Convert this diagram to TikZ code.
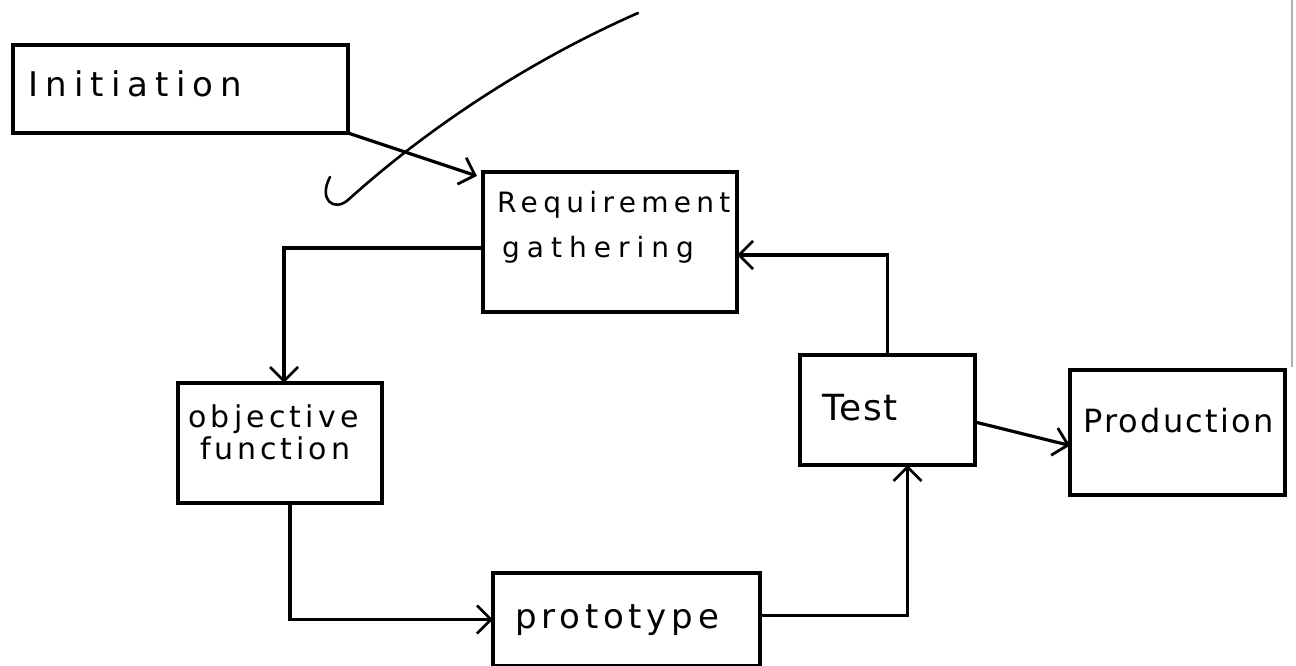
\documentclass[tikz,border=0pt]{standalone}
\usepackage{fontspec}
\setmainfont{DejaVu Sans}
\newfontfamily\hand{DejaVu Sans}
\usetikzlibrary{arrows.meta,calc}
\tikzset{
  box/.style={draw, line width=3.2bp, inner sep=0pt, outer sep=0pt, anchor=north west},
  txt/.style={inner sep=0pt, anchor=base west, text=black},
  arr/.style={draw, line width=3.2bp, -{Straight Barb[length=14bp,width=28bp,line width=2.8bp]}},
  conn/.style={draw, line width=3.2bp}
}
\newcommand{\hw}[3]{{\hand\fontsize{#1bp}{#1bp}\selectfont\addfontfeature{LetterSpace=#2}#3}}
\begin{document}
\begin{tikzpicture}[x=1bp,y=-1bp]
\useasboundingbox[fill=white] (0,0) rectangle (1296,666);
% boxes
\node[box, minimum width=335bp, minimum height=88bp] (init) at (13,45) {};
\node[box, minimum width=254bp, minimum height=140bp] (req) at (483,172) {};
\node[box, minimum width=204bp, minimum height=120bp] (obj) at (178,383) {};
\node[box, minimum width=267bp, minimum height=93bp] (proto) at (493,573) {};
\node[box, minimum width=175bp, minimum height=110bp] (test) at (800,355) {};
\node[box, minimum width=215bp, minimum height=125bp] (prod) at (1070,370) {};
% texts
\node[txt] (tinit) at (28,97) {\hw{34}{21}{Initiation}};
\node[txt] (treq1) at (497,213) {\hw{28}{19}{Requirement}};
\node[txt] (treq2) at (502,258) {\hw{28}{25}{gathering}};
\node[txt] (tobj1) at (188,427) {\hw{30}{14}{objective}};
\node[txt] (tobj2) at (200,459) {\hw{30}{13}{function}};
\node[txt] (tproto) at (515,628) {\hw{34}{14}{prototype}};
\node[txt] (ttest) at (822,420) {\hw{36}{4}{Test}};
\node[txt] (tprod) at (1083,432) {\hw{32}{7}{Production}};
% connectors
\draw[arr] (init.south east) -- ([shift={(-6,4)}]req.north west);
\draw[arr] ([yshift=-6bp]req.west) -| ([xshift=4bp]obj.north);
\draw[arr] ([xshift=10bp]obj.south) |- (proto.west);
\draw[arr] ([yshift=4bp]proto.east) -| ([xshift=20bp]test.south);
\draw[arr] ([xshift=0bp]test.north) |- ([yshift=-13bp]req.east);
\draw[arr] ([yshift=-12bp]test.east) -- ([yshift=-13bp]prod.west);
% check mark
\draw[line width=2.6bp, line cap=round] (638,13) .. controls (520,65) and (420,135) .. (348,200) .. controls (334,212) and (318,200) .. (330,177);
% page edge
\draw[gray!60, line width=2.4bp] (1292,0) -- (1292,367);
\end{tikzpicture}
\end{document}
